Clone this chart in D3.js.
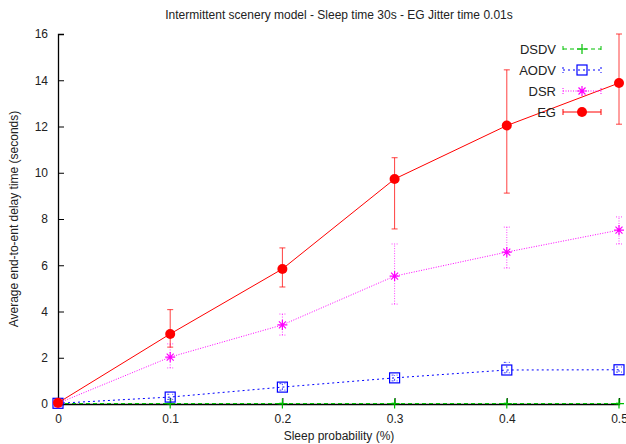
<!DOCTYPE html>
<html>
<head>
<meta charset="utf-8">
<script src="https://cdn.jsdelivr.net/npm/d3@7"></script>
<style>
  body { margin: 0; background: #fff; }
  text { font-family: "Liberation Sans", Arial, sans-serif; }
</style>
</head>
<body>
<svg width="626" height="444"></svg>
<script>
var sleepProb = [0, 0.1, 0.2, 0.3, 0.4, 0.5];
var xTicks = [0, 0.1, 0.2, 0.3, 0.4, 0.5];
var yTicks = [0, 2, 4, 6, 8, 10, 12, 14, 16];

var dsdvMean = [0.02, 0.02, 0.02, 0.02, 0.02, 0.02];
var dsdvLow  = [0.0, 0.0, 0.0, 0.0, 0.0, 0.0];
var dsdvHigh = [0.04, 0.04, 0.04, 0.04, 0.04, 0.04];

var aodvMean = [0.03, 0.3, 0.73, 1.13, 1.47, 1.48];
var aodvLow  = [0.0, 0.2, 0.6, 1.0, 1.35, 1.38];
var aodvHigh = [0.06, 0.42, 0.88, 1.25, 1.8, 1.6];

var dsrMean = [0.03, 2.03, 3.42, 5.53, 6.57, 7.52];
var dsrLow  = [0.0, 1.56, 2.98, 4.32, 5.88, 6.92];
var dsrHigh = [0.06, 2.6, 3.89, 6.92, 7.65, 8.09];

var egMean = [0.05, 3.03, 5.84, 9.73, 12.04, 13.88];
var egLow  = [0.0, 2.46, 5.06, 7.57, 9.12, 12.1];
var egHigh = [0.1, 4.08, 6.75, 10.65, 14.45, 16.0];

var svg = d3.select("svg"),
    width = +svg.attr("width"),
    height = +svg.attr("height");

var x = d3.scaleLinear().domain([0, 0.5]).range([58, 619]);
var y = d3.scaleLinear().domain([0, 16]).range([404, 34]);

// star marker: plus + cross
function star_path(cx, cy, s) {
  var d = s * 0.7;
  return "M" + (cx - s) + "," + cy + "H" + (cx + s) +
         "M" + cx + "," + (cy - s) + "V" + (cy + s) +
         "M" + (cx - d) + "," + (cy - d) + "L" + (cx + d) + "," + (cy + d) +
         "M" + (cx - d) + "," + (cy + d) + "L" + (cx + d) + "," + (cy - d);
}

var series = [
  {name: "DSDV", color: "#00c000", dash: "4,3", mean: dsdvMean, low: dsdvLow, high: dsdvHigh, marker: "plus"},
  {name: "AODV", color: "#0000ff", dash: "2,3", mean: aodvMean, low: aodvLow, high: aodvHigh, marker: "square"},
  {name: "DSR", color: "#ff00ff", dash: "1,1.5", mean: dsrMean, low: dsrLow, high: dsrHigh, marker: "star"},
  {name: "EG", color: "#ff0000", dash: null, mean: egMean, low: egLow, high: egHigh, marker: "circle"}
];

// title
svg.append("text")
  .attr("x", 339).attr("y", 19)
  .attr("text-anchor", "middle")
  .attr("font-size", 12)
  .attr("fill", "#222")
  .text("Intermittent scenery model - Sleep time 30s - EG Jitter time 0.01s");

// axes
var xAxis = svg.append("g")
  .attr("transform", "translate(0,404)")
  .call(d3.axisBottom(x).tickValues(xTicks).tickSize(-6).tickPadding(10)
    .tickFormat(function(d) { return d === 0 ? "0" : d3.format(".1f")(d); }));
var yAxis = svg.append("g")
  .attr("transform", "translate(58,0)")
  .call(d3.axisLeft(y).tickValues(yTicks).tickSize(-6).tickPadding(10));

[xAxis, yAxis].forEach(function(ax) {
  ax.select(".domain").attr("stroke", "#000").attr("stroke-width", 1.3);
  ax.selectAll(".tick line").attr("stroke", "#000").attr("stroke-width", 1);
  ax.selectAll(".tick text").attr("font-size", 12)
    .attr("font-family", "Liberation Sans, Arial, sans-serif").attr("fill", "#222");
});

svg.append("text")
  .attr("x", 339).attr("y", 440)
  .attr("text-anchor", "middle")
  .attr("font-size", 12)
  .attr("fill", "#222")
  .text("Sleep probability (%)");

svg.append("text")
  .attr("transform", "translate(18,219) rotate(-90)")
  .attr("text-anchor", "middle")
  .attr("font-size", 12)
  .attr("fill", "#222")
  .text("Average end-to-ent delay time (seconds)");

function draw_marker(g, s, cx, cy) {
  if (s.marker === "circle") {
    g.append("circle").attr("cx", cx).attr("cy", cy).attr("r", 5).attr("fill", s.color);
  } else if (s.marker === "square") {
    g.append("rect").attr("x", cx - 5).attr("y", cy - 5).attr("width", 10).attr("height", 10)
      .attr("fill", "none").attr("stroke", s.color).attr("stroke-width", 1.2);
  } else if (s.marker === "star") {
    g.append("path").attr("d", star_path(cx, cy, 5)).attr("stroke", s.color)
      .attr("stroke-width", 1.2).attr("fill", "none");
  } else {
    g.append("path").attr("d", "M" + (cx - 5) + "," + cy + "H" + (cx + 5) + "M" + cx + "," + (cy - 5) + "V" + (cy + 5))
      .attr("stroke", s.color).attr("stroke-width", 1.2);
  }
}

var line = d3.line()
  .x(function(d) { return x(d[0]); })
  .y(function(d) { return y(d[1]); });

series.forEach(function(s) {
  var g = svg.append("g");
  var pts = sleepProb.map(function(p, i) { return [p, s.mean[i]]; });

  // error bars
  sleepProb.forEach(function(p, i) {
    var cx = x(p), y1 = y(s.low[i]), y2 = y(s.high[i]);
    var eb = g.append("path")
      .attr("d", "M" + cx + "," + y1 + "V" + y2 +
                 "M" + (cx - 3) + "," + y1 + "H" + (cx + 3) +
                 "M" + (cx - 3) + "," + y2 + "H" + (cx + 3))
      .attr("stroke", s.color).attr("stroke-width", 1).attr("fill", "none")
      .attr("opacity", 0.75);
    if (s.dash) eb.attr("stroke-dasharray", s.dash);
  });

  var ln = g.append("path")
    .datum(pts)
    .attr("d", line)
    .attr("fill", "none")
    .attr("stroke", s.color)
    .attr("stroke-width", 1);
  if (s.dash) ln.attr("stroke-dasharray", s.dash);

  pts.forEach(function(d) { draw_marker(g, s, x(d[0]), y(d[1])); });
});

// legend
var legY = [49, 70, 91, 112];
series.forEach(function(s, i) {
  var g = svg.append("g");
  var ly = legY[i];
  g.append("text")
    .attr("x", 556).attr("y", ly + 5)
    .attr("text-anchor", "end")
    .attr("font-size", 13)
    .attr("fill", "#222")
    .text(s.name);
  var lp = g.append("path")
    .attr("d", "M563," + ly + "H601M563," + (ly - 3) + "V" + (ly + 3) + "M601," + (ly - 3) + "V" + (ly + 3))
    .attr("stroke", s.color).attr("stroke-width", 1).attr("fill", "none");
  if (s.dash) lp.attr("stroke-dasharray", s.dash);
  draw_marker(g, s, 582, ly);
});
</script>
</body>
</html>
